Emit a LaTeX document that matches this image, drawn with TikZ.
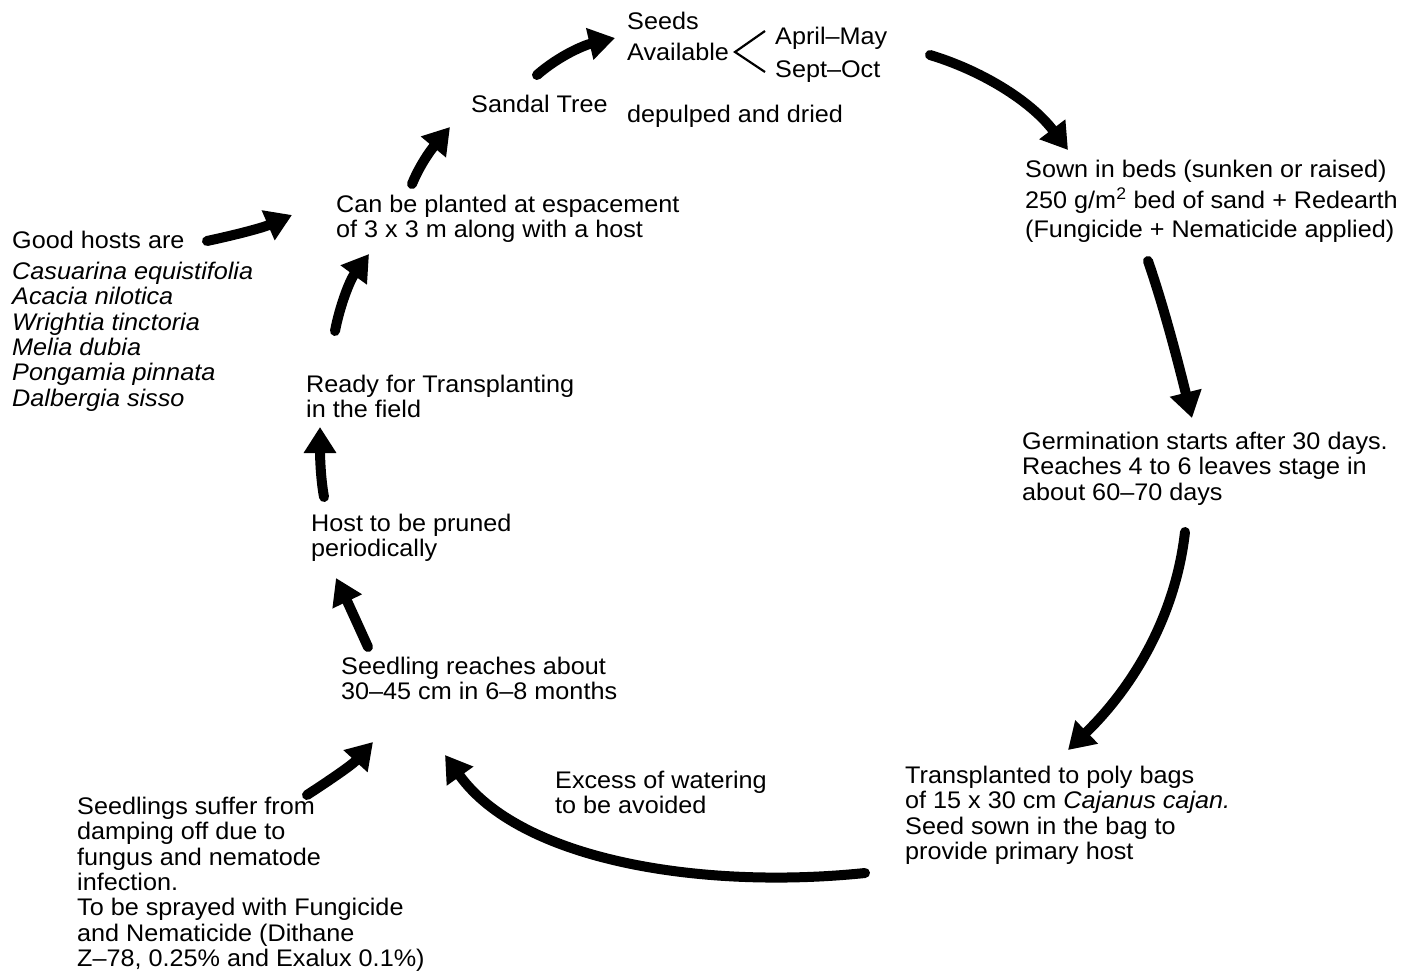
\documentclass[tikz,border=0pt]{standalone}
\usepackage{fontspec}
\setmainfont[FakeStretch=1.05]{Liberation Sans}
\usetikzlibrary{arrows.meta}
\begin{document}
\begin{tikzpicture}[x=1pt,y=-1pt,
  lbl/.style={anchor=north west, inner sep=0pt, align=left, font=\fontsize{24}{25.3}\selectfont},
  ilbl/.style={lbl, font=\fontsize{24}{25.3}\selectfont\itshape},
  flow/.style={line width=10pt, line cap=round, -{Triangle[length=26pt,width=31pt]}},
  brk/.style={line width=2.2pt}]
\useasboundingbox[fill=white] (0,0) rectangle (1417,971);

% text nodes
\node[lbl] (seeds) at (627,12) {Seeds\\[5.7pt]Available};
\node[lbl] (months) at (775,27) {April–May\\[7.7pt]Sept–Oct};
\node[lbl] (sandal) at (471,95) {Sandal Tree};
\node[lbl] (dried) at (627,105) {depulped and dried};
\node[lbl] (sown) at (1025,160) {Sown in beds (sunken or raised)\\[4pt]250 g/m\textsuperscript{2}\ bed of sand + Redearth\\[4pt](Fungicide + Nematicide applied)};
\node[lbl] (germ) at (1022,432) {Germination starts after 30 days.\\Reaches 4 to 6 leaves stage in\\about 60–70 days};
\node[lbl] (trans) at (905,766) {Transplanted to poly bags\\of 15 x 30 cm \textit{Cajanus cajan.}\\Seed sown in the bag to\\provide primary host};
\node[lbl] (excess) at (555,771) {Excess of watering\\to be avoided};
\node[lbl] (suffer) at (77,797) {Seedlings suffer from\\damping off due to\\fungus and nematode\\infection.\\To be sprayed with Fungicide\\and Nematicide (Dithane\\Z–78, 0.25\% and Exalux 0.1\%)};
\node[lbl] (reach) at (341,657) {Seedling reaches about\\30–45 cm in 6–8 months};
\node[lbl] (pruned) at (311,514) {Host to be pruned\\periodically};
\node[lbl] (ready) at (306,375) {Ready for Transplanting\\in the field};
\node[lbl] (good) at (12,231) {Good hosts are};
\node[ilbl] (hosts) at (12,262) {Casuarina equistifolia\\Acacia nilotica\\Wrightia tinctoria\\Melia dubia\\Pongamia pinnata\\Dalbergia sisso};
\node[lbl] (plant) at (336,195) {Can be planted at espacement\\of 3 x 3 m along with a host};

% bracket
\coordinate (bt) at (765,31);
\coordinate (bv) at (735,52);
\coordinate (bb) at (765,72);
\draw[brk] (bt) -- (bv) -- (bb);

% arrow end points
\coordinate (a1s) at (537,75);   \coordinate (a1e) at (615,38);
\coordinate (a2s) at (930,55);   \coordinate (a2e) at (1068,150);
\coordinate (a3s) at (1148,261); \coordinate (a3e) at (1192,418);
\coordinate (a4s) at (1185,532); \coordinate (a4e) at (1068,750);
\coordinate (a5s) at (865,873);  \coordinate (a5e) at (445,755);
\coordinate (a6s) at (307,795);  \coordinate (a6e) at (373,742);
\coordinate (a7s) at (368,647);  \coordinate (a7e) at (336,578);
\coordinate (a8s) at (324,497);  \coordinate (a8e) at (320,427);
\coordinate (a9s) at (335,331);  \coordinate (a9e) at (369,254);
\coordinate (a10s) at (412,184); \coordinate (a10e) at (450,127);
\coordinate (a11s) at (207,241); \coordinate (a11e) at (292,215);

\draw[flow] (a1s) .. controls (560,55) and (585,45) .. (a1e);
\draw[flow] (a2s) .. controls (980,70) and (1030,100) .. (a2e);
\draw[flow] (a3s) .. controls (1165,310) and (1180,370) .. (a3e);
\draw[flow] (a4s) .. controls (1175,620) and (1130,690) .. (a4e);
\draw[flow] (a5s) .. controls (700,890) and (520,860) .. (a5e);
\draw[flow] (a6s) .. controls (330,780) and (352,765) .. (a6e);
\draw[flow] (a7s) .. controls (358,625) and (348,603) .. (a7e);
\draw[flow] (a8s) .. controls (320,475) and (320,450) .. (a8e);
\draw[flow] (a9s) .. controls (340,305) and (350,280) .. (a9e);
\draw[flow] (a10s) .. controls (422,160) and (435,145) .. (a10e);
\draw[flow] (a11s) .. controls (235,235) and (262,228) .. (a11e);
\end{tikzpicture}
\end{document}
